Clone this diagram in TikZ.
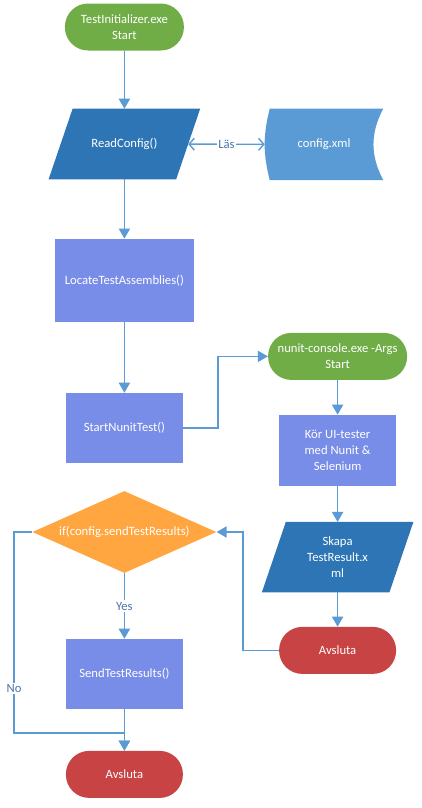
\documentclass[tikz,border=0pt]{standalone}
\usepackage{fontspec}
\setmainfont{Carlito}
\usetikzlibrary{shapes.geometric, arrows.meta, backgrounds}

\definecolor{termgreen}{HTML}{70AD47}
\definecolor{iodark}{HTML}{2E75B6}
\definecolor{cfgblue}{HTML}{5B9BD5}
\definecolor{procblue}{HTML}{778DE8}
\definecolor{decorange}{HTML}{FFA640}
\definecolor{endred}{HTML}{C84343}
\definecolor{lineblue}{HTML}{5B9BD5}
\definecolor{lblblue}{HTML}{4A76A8}

\begin{document}
\begin{tikzpicture}[
    base/.style={
        font=\fontsize{9}{11.4}\selectfont, text=white,
        align=center, inner sep=0pt
    },
    term/.style={
        base, rectangle, rounded corners=0.58cm, fill=termgreen,
        minimum width=2.975cm, minimum height=1.175cm
    },
    endterm/.style={term, fill=endred, minimum width=2.925cm},
    proc/.style={
        base, rectangle, fill=procblue,
        minimum width=2.925cm, minimum height=1.75cm
    },
    io/.style={
        base, rectangle, minimum width=3.175cm, minimum height=1.75cm
    },
    store/.style={
        base, rectangle, minimum width=2.95cm, minimum height=1.775cm
    },
    decision/.style={
        base, diamond, aspect=2.24, fill=decorange,
        minimum width=4.6cm, minimum height=2.05cm
    },
    lbl/.style={
        font=\fontsize{9}{11}\selectfont, text=lblblue,
        fill=white, inner sep=1pt
    },
    arr/.style={-{Triangle[length=2.5mm, width=2.8mm]}, line width=1pt, draw=lineblue},
    darr/.style={{Straight Barb[length=1.3mm, width=3mm]}-{Straight Barb[length=1.3mm, width=3mm]}, line width=1pt, draw=lineblue},
]

% Column 1: main flow
\node[term] (start) at (3.11, -0.675) {TestInitializer.exe\\Start};
\node[io] (read) at (3.11, -3.6) {ReadConfig()};
\node[proc, minimum width=3.475cm, minimum height=2.075cm] (locate) at (3.11, -7.01)
    {LocateTestAssemblies()};
\node[proc] (startnunit) at (3.11, -10.7) {StartNunitTest()};
\node[decision] (dec) at (3.11, -13.3) {if(config.sendTestResults)};
\node[proc] (sendres) at (3.11, -16.85) {SendTestResults()};
\node[endterm] (endl) at (3.11, -19.36) {Avsluta};
\coordinate (noj) at (3.11, -18.325);

% Column 2: config and nunit run
\node[store] (cfg) at (8.1, -3.61) {config.xml};
\node[term, minimum width=3.475cm] (nunit) at (8.44, -8.91) {nunit-console.exe -Args\\Start};
\node[proc, minimum height=1.775cm] (kor) at (8.44, -11.26) {Kör UI-tester\\med Nunit \&\\Selenium};
\node[io] (skapa) at (8.44, -13.93) {Skapa\\TestResult.x\\ml};
\node[endterm] (endr) at (8.44, -16.26) {Avsluta};

% Shapes behind the io and store nodes
\begin{scope}[on background layer]
    \fill[white] (0,0) rectangle (10.525,-20.2);
    \foreach \n in {read, skapa}
        \fill[iodark] ([xshift=0.3cm]\n.north west) -- ([xshift=0.3cm]\n.north east)
            -- ([xshift=-0.3cm]\n.south east) -- ([xshift=-0.3cm]\n.south west) -- cycle;
    \fill[cfgblue] ([xshift=0.125cm]cfg.north west) to[bend right=14] ([xshift=0.125cm]cfg.south west)
        -- (cfg.south east) to[bend left=28] (cfg.north east) -- cycle;
\end{scope}

% Arrows
\draw[arr] (start) -- (read);
\draw[darr] (read) -- node[lbl] {Läs} (cfg);
\draw[arr] (read) -- (locate);
\draw[arr] (locate) -- (startnunit);
\draw[arr] (startnunit.east) -- ++(0.875,0) |- (nunit.west);
\draw[arr] (nunit) -- (kor);
\draw[arr] (kor) -- (skapa);
\draw[arr] (skapa) -- (endr);
\draw[arr] (endr.west) -- ++(-0.9,0) |- (dec.east);
\draw[arr] (dec) -- node[lbl] {Yes} (sendres);
\draw[arr] (sendres) -- (endl);
\draw[arr] (dec.west) -- ++(-0.45,0) |- node[lbl, pos=0.39] {No} (noj) -- (endl.north);

\end{tikzpicture}
\end{document}
